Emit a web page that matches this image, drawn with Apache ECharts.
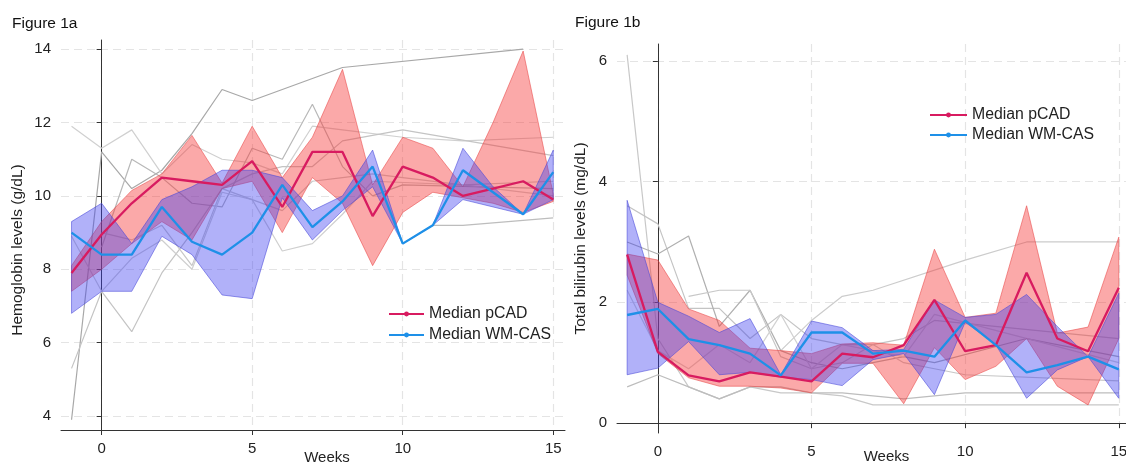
<!DOCTYPE html>
<html>
<head>
<meta charset="utf-8">
<script src="https://cdn.jsdelivr.net/npm/echarts@6/dist/echarts.min.js"></script>
<style>
  html, body { margin: 0; padding: 0; background: #fff; }
  #chart { width: 1126px; height: 463px; }
</style>
</head>
<body>
<div id="chart"></div>
<script>
// weeks -1 .. 15
const weeks = [-1, 0, 1, 2, 3, 4, 5, 6, 7, 8, 9, 10, 11, 12, 13, 14, 15]
const xTicks = [0, 5, 10, 15]

// Figure 1a - hemoglobin (g/dL)
const hbTicks = [4, 6, 8, 10, 12, 14]
const hbMedPCAD = [7.9, 8.95, 9.8, 10.5, 10.4, 10.3, 10.95, 9.7, 11.2, 11.2, 9.45, 10.8, 10.5, 10.0, 10.2, 10.4, 9.9]
const hbLoPCAD  = [7.4, 8.0, 8.7, 9.3, 8.8, 10.2, 10.4, 9.0, 10.5, 9.8, 8.1, 9.55, 10.1, 9.95, 9.8, 9.55, 9.85]
const hbHiPCAD  = [8.1, 9.3, 10.15, 10.6, 11.65, 10.35, 11.9, 10.5, 11.6, 13.45, 10.3, 11.6, 11.3, 10.25, 12.0, 13.95, 10.05]
const hbMedWM   = [9.0, 8.4, 8.4, 9.7, 8.75, 8.4, 9.0, 10.3, 9.15, 9.85, 10.8, 8.7, 9.2, 10.7, 10.1, 9.5, 10.65]
const hbLoWM    = [6.8, 7.4, 7.4, 8.9, 8.4, 7.3, 7.2, 9.95, 8.8, 9.6, 10.25, 8.7, 9.2, 9.9, 9.7, 9.5, 9.9]
const hbHiWM    = [9.3, 9.8, 8.7, 9.9, 10.25, 10.7, 10.7, 10.5, 9.6, 10.0, 11.25, 8.7, 9.2, 11.3, 10.25, 9.5, 11.25]
const hbPatients = [
  [3.9, 11.2, 10.2, 10.7, 11.7, 12.9, 12.6, 12.9, null, 13.5, null, null, null, null, null, 14.0, null],
  [11.9, 11.3, 11.8, 10.6, 11.4, 11.0, 10.9, 10.6, 11.9, 11.8, null, 11.6, null, 11.5, null, null, 11.6],
  [5.3, 7.4, 6.3, 7.9, 9.0, 10.2, 10.6, 10.8, 10.8, 11.5, null, 11.8, null, null, null, null, 11.1],
  [null, 8.6, 11.0, 10.5, 9.8, 9.7, 11.3, 11.0, 12.5, 10.8, 10.0, 10.3, null, null, null, null, 10.2],
  [8.9, 7.4, 8.3, 8.8, 8.0, 10.1, 9.9, 8.5, 8.7, 9.5, 10.4, null, null, 10.3, null, null, 10.0],
  [null, null, null, null, null, null, null, null, null, null, null, 8.7, 9.2, 9.2, null, null, 9.4],
  [null, 9.0, 8.8, 9.2, 8.1, 10.2, 9.9, 9.6, 10.4, 10.5, 10.6, 10.5, null, 10.3, null, null, 10.4]
]
const hbPatientColors = ['#a8a8a8', '#d0d0d0', '#c4c4c4', '#b8b8b8', '#cfcfcf', '#bdbdbd', '#c8c8c8']

// Figure 1b - total bilirubin (mg/dL)
const tbTicks = [0, 2, 4, 6]
const tbMedPCAD = [2.79, 1.18, 0.79, 0.69, 0.84, 0.77, 0.69, 1.15, 1.09, 1.29, 2.04, 1.19, 1.29, 2.49, 1.4, 1.19, 2.24]
const tbLoPCAD  = [2.45, 1.15, 0.75, 0.61, 0.61, 0.58, 0.5, 0.99, 0.99, 0.32, 1.25, 0.72, 0.94, 1.4, 0.61, 0.3, 1.4]
const tbHiPCAD  = [2.8, 2.7, 1.89, 1.7, 1.24, 1.2, 1.15, 1.31, 1.33, 1.29, 2.88, 1.75, 1.82, 3.6, 1.49, 1.59, 3.08]
const tbMedWM   = [1.79, 1.89, 1.39, 1.29, 1.15, 0.79, 1.5, 1.5, 1.15, 1.2, 1.1, 1.7, 1.29, 0.84, 0.96, 1.1, 0.89]
const tbLoWM    = [0.8, 0.91, 1.35, 0.8, 0.84, 0.76, 0.72, 0.62, 1.05, 1.15, 0.47, 1.67, 1.3, 0.41, 0.88, 1.1, 0.41]
const tbHiWM    = [3.69, 2.0, 1.77, 1.5, 1.73, 0.8, 1.69, 1.58, 1.2, 1.22, 2.04, 1.75, 1.8, 2.13, 1.6, 1.1, 2.15]
const tbPatients = [
  [6.1, 1.4, 0.6, 0.4, 0.6, 0.5, 0.5, 0.45, 0.3, 0.3, 0.3, null, null, null, null, null, 0.3],
  [3.6, 3.3, 1.9, 1.9, 1.4, 1.8, 1.4, 1.3, 1.3, 1.4, 1.7, null, null, null, null, null, 1.4],
  [3.0, 2.8, 3.1, 1.6, 2.2, 1.2, 1.0, 0.9, 1.0, 1.1, 1.0, null, null, 1.4, null, null, 1.1],
  [0.6, 0.8, 0.6, 0.4, 0.6, 0.6, 0.5, 0.5, 0.45, 0.4, 0.45, 0.5, null, null, null, null, 0.5],
  [null, null, 2.1, 2.2, 2.2, 1.1, 0.9, 1.0, 1.3, 1.0, 0.9, 0.8, null, null, null, null, 0.7],
  [null, null, null, null, null, 1.2, 1.7, 2.1, 2.2, null, null, 2.7, null, 3.0, null, null, 3.0],
  [2.2, 1.2, 0.9, 1.3, 1.0, 1.8, 0.9, 1.3, 1.2, 1.1, 1.8, null, null, null, null, null, 1.0]
]
const tbPatientColors = ['#c8c8c8', '#c4c4c4', '#b0b0b0', '#bdbdbd', '#c8c8c8', '#cccccc', '#d2d2d2']

const colPCAD = '#d81b60'
const colWM = '#1e90e8'
const redFill = 'rgba(245, 50, 50, 0.42)'
const redEdge = 'rgba(232, 70, 70, 0.7)'
const blueFill = 'rgba(60, 60, 240, 0.4)'
const blueEdge = 'rgba(70, 70, 215, 0.7)'
const font = 'Liberation Sans, Arial, sans-serif'

const pts = vals => weeks.map((w, i) => [w, vals[i]])

// IQR band: one polygon through the upper values and back along the lower ones
function band(idx, lo, hi, fill, edge) {
  const rows = weeks.map((w, i) => [w, lo[i], hi[i]])
  return {
    type: 'custom', xAxisIndex: idx, yAxisIndex: idx, data: rows, silent: true, z: 3,
    encode: { x: 0, y: [1, 2] },
    renderItem: function (params, api) {
      if (params.dataIndex !== 0) return
      const upper = rows.map(r => api.coord([r[0], r[2]]))
      const lower = rows.map(r => api.coord([r[0], r[1]])).reverse()
      return {
        type: 'polygon',
        shape: { points: upper.concat(lower) },
        style: { fill: fill, stroke: edge, lineWidth: 0.8 }
      }
    }
  }
}

function patients(idx, rows, colors) {
  return rows.map((r, k) => ({
    type: 'line', xAxisIndex: idx, yAxisIndex: idx, data: pts(r), symbol: 'none', connectNulls: true,
    lineStyle: { color: colors[k], width: 1.2 }, silent: true, z: 2
  }))
}

function median(idx, name, vals, color) {
  return { type: 'line', name: name, xAxisIndex: idx, yAxisIndex: idx, data: pts(vals),
    symbol: 'circle', symbolSize: 4, showSymbol: false,
    itemStyle: { color: color }, lineStyle: { color: color, width: 2.3 }, z: 5 }
}

function xAxis(idx, min, max, gap) {
  return {
    type: 'value', gridIndex: idx, min: min, max: max,
    name: 'Weeks', nameLocation: 'middle', nameGap: gap, nameMoveOverlap: false,
    nameTextStyle: { fontFamily: font, fontSize: 15, color: '#222', padding: [0, 0, 0, 28] },
    axisLine: { lineStyle: { color: '#333', width: 1 } },
    axisTick: { length: 5, lineStyle: { color: '#333' }, customValues: xTicks },
    axisLabel: { fontFamily: font, fontSize: 15, color: '#222', margin: 11, customValues: xTicks },
    splitLine: { show: true, lineStyle: { color: '#e4e4e4', type: [8, 5], width: 1.2 } }
  }
}

function yAxis(idx, min, max, ticks, name, gap, pad) {
  return {
    type: 'value', gridIndex: idx, min: min, max: max,
    name: name, nameLocation: 'middle', nameGap: gap, nameMoveOverlap: false,
    nameTextStyle: { fontFamily: font, fontSize: 15.5, color: '#222', padding: pad },
    axisLine: { show: true, lineStyle: { color: '#333', width: 1 } },
    axisTick: { show: true, length: 5, lineStyle: { color: '#333' }, customValues: ticks },
    axisLabel: { fontFamily: font, fontSize: 15, color: '#222', margin: 10, customValues: ticks },
    splitLine: { show: true, lineStyle: { color: '#e4e4e4', type: [8, 5], width: 1.2 } }
  }
}

const chart = echarts.init(document.getElementById('chart'), null, { renderer: 'canvas' })

const option = {
  backgroundColor: '#fff',
  animation: false,
  title: [
    { text: 'Figure 1a', left: 7, top: 11, textStyle: { fontFamily: font, fontSize: 15.5, fontWeight: 'normal', color: '#111' } },
    { text: 'Figure 1b', left: 570, top: 10, textStyle: { fontFamily: font, fontSize: 15.5, fontWeight: 'normal', color: '#111' } }
  ],
  legend: [
    { data: ['Median pCAD', 'Median WM-CAS'], orient: 'vertical', left: 383, top: 301,
      itemWidth: 35, itemHeight: 6, itemGap: 5,
      textStyle: { fontFamily: font, fontSize: 15.8, color: '#222' } },
    { data: ['Median pCAD ', 'Median WM-CAS '], orient: 'vertical', left: 924, top: 102,
      itemWidth: 37, itemHeight: 6, itemGap: 4,
      textStyle: { fontFamily: font, fontSize: 15.8, color: '#222' } }
  ],
  grid: [
    { left: 61, right: 561, top: 40, bottom: 33, outerBoundsMode: 'none' },
    { left: 617, right: -2, top: 44, bottom: 30, outerBoundsMode: 'none' }
  ],
  xAxis: [xAxis(0, -1.35, 15.39, 20), xAxis(1, -1.33, 15.3, 16)],
  yAxis: [
    yAxis(0, 3.62, 14.25, hbTicks, 'Hemoglobin levels (g/dL)', 35, [0, 30, 0, 0]),
    yAxis(1, -0.165, 6.28, tbTicks, 'Total bilirubin levels (mg/dL)', 28, [0, 0, 0, 0])
  ],
  series: [
    ...patients(0, hbPatients, hbPatientColors),
    band(0, hbLoPCAD, hbHiPCAD, redFill, redEdge),
    band(0, hbLoWM, hbHiWM, blueFill, blueEdge),
    median(0, 'Median pCAD', hbMedPCAD, colPCAD),
    median(0, 'Median WM-CAS', hbMedWM, colWM),
    ...patients(1, tbPatients, tbPatientColors),
    band(1, tbLoPCAD, tbHiPCAD, redFill, redEdge),
    band(1, tbLoWM, tbHiWM, blueFill, blueEdge),
    median(1, 'Median pCAD ', tbMedPCAD, colPCAD),
    median(1, 'Median WM-CAS ', tbMedWM, colWM)
  ]
}

chart.setOption(option)
</script>
</body>
</html>
